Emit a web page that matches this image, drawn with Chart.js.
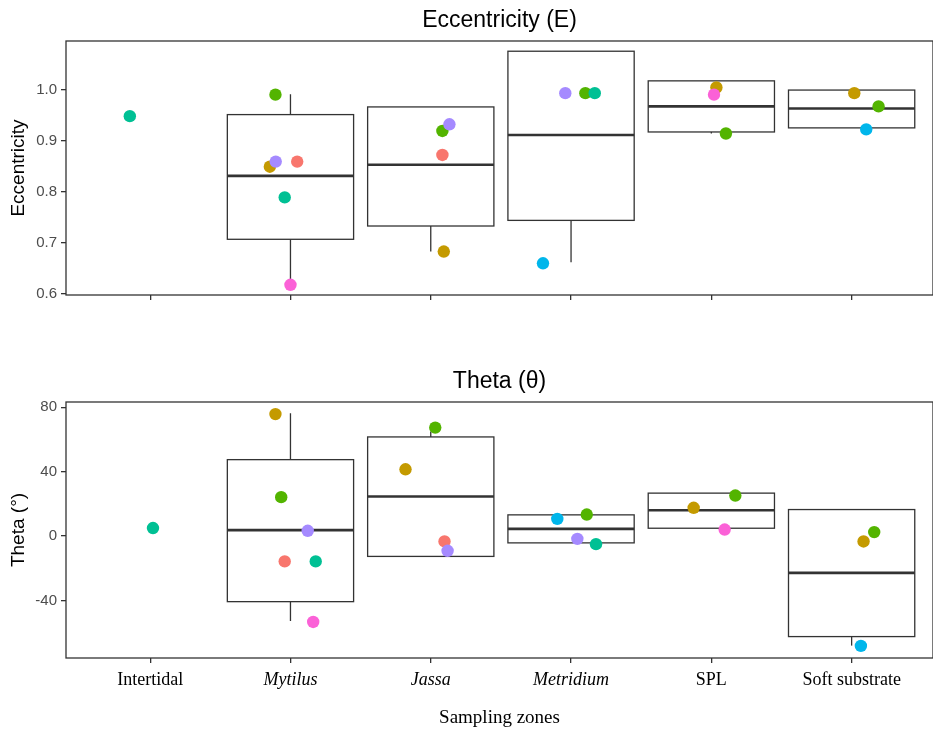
<!DOCTYPE html>
<html>
<head>
<meta charset="utf-8">
<title>Eccentricity and Theta by sampling zone</title>
<script src="https://cdn.jsdelivr.net/npm/chart.js@4.4.1/dist/chart.umd.min.js"></script>
<style>
  body { margin: 0; background: #fff; }
  canvas { position: absolute; left: 0; }
  #eccChart { top: 0; }
  #thetaChart { top: 360px; }
</style>
</head>
<body>
<canvas id="eccChart" width="933" height="360"></canvas>
<canvas id="thetaChart" width="933" height="369"></canvas>
<script>
const zones = ['Intertidal', 'Mytilus', 'Jassa', 'Metridium', 'SPL', 'Soft substrate'];
const italicZones = ['Mytilus', 'Jassa', 'Metridium'];
const groupColors = ['#F8766D', '#C49A00', '#53B400', '#00C094', '#00B6EB', '#A58AFF', '#FB61D7'];

// eccentricity box stats per zone (null = no box)
const eccLow    = [null, 0.618, 0.683, 0.662, 0.914, 0.925];
const eccQ1     = [null, 0.707, 0.733, 0.744, 0.917, 0.925];
const eccMedian = [null, 0.831, 0.853, 0.911, 0.967, 0.963];
const eccQ3     = [null, 0.951, 0.966, 1.075, 1.017, 0.999];
const eccHigh   = [null, 0.991, 0.966, 1.075, 1.017, 0.999];
const eccTicks  = [0.6, 0.7, 0.8, 0.9, 1.0];

// eccentricity per individual
const eccZone   = [0, 1, 1, 1, 1, 1, 1, 2, 2, 2, 2, 3, 3, 3, 3, 4, 4, 4, 5, 5, 5];
const eccGroup  = [3, 2, 5, 1, 0, 3, 6, 2, 5, 0, 1, 5, 2, 3, 4, 1, 6, 2, 1, 2, 4];
const eccValue  = [0.948, 0.990, 0.859, 0.849, 0.859, 0.789, 0.618, 0.919, 0.932, 0.872, 0.683,
                   0.993, 0.993, 0.993, 0.660, 1.004, 0.990, 0.914, 0.993, 0.967, 0.922];
const eccJitter = [-0.145, -0.107, -0.105, -0.147, 0.048, -0.041, 0.0, 0.083, 0.133, 0.083, 0.093,
                   -0.041, 0.102, 0.169, -0.2, 0.036, 0.019, 0.104, 0.019, 0.192, 0.104];

// theta box stats per zone
const thLow    = [null, -52.7, -12.6, -4.2, 4.9, -68.0];
const thQ1     = [null, -40.7, -12.6, -4.2, 4.9, -62.4];
const thMedian = [null, 3.7, 24.6, 4.5, 16.1, -22.8];
const thQ3     = [null, 47.5, 61.6, 13.2, 26.7, 16.5];
const thHigh   = [null, 76.3, 65.0, 13.2, 26.7, 16.5];
const thTicks  = [-40, 0, 40, 80];

// theta per individual
const thZone   = [0, 1, 1, 1, 1, 1, 1, 2, 2, 2, 2, 3, 3, 3, 3, 4, 4, 4, 5, 5, 5];
const thGroup  = [3, 1, 2, 5, 0, 3, 6, 2, 1, 0, 5, 4, 2, 5, 3, 1, 2, 6, 2, 1, 4];
const thValue  = [5.0, 75.8, 24.2, 3.3, -15.7, -15.7, -53.3, 67.4, 41.5, -3.3, -9.1,
                  10.7, 13.4, -1.7, -5.0, 17.6, 25.2, 4.1, 2.5, -3.3, -68.2];
const thJitter = [0.02, -0.107, -0.066, 0.123, -0.041, 0.18, 0.162, 0.032, -0.18, 0.098, 0.12,
                  -0.098, 0.112, 0.045, 0.178, -0.126, 0.171, 0.095, 0.161, 0.085, 0.066];

const lineCol = '#333333';

// boxes + whiskers, drawn under the points
function boxPlugin(low, q1, med, q3, high) {
  return {
    id: 'boxes',
    beforeDatasetsDraw(chart) {
      const { ctx, scales: { x, y } } = chart;
      ctx.save();
      ctx.strokeStyle = lineCol;
      q1.forEach((lo, i) => {
        if (lo == null) return;
        const l = x.getPixelForValue(i - 0.45), r = x.getPixelForValue(i + 0.45), c = x.getPixelForValue(i);
        const yq1 = y.getPixelForValue(q1[i]), yq3 = y.getPixelForValue(q3[i]);
        ctx.lineWidth = 1.3;
        ctx.beginPath();
        ctx.moveTo(c, y.getPixelForValue(high[i])); ctx.lineTo(c, yq3);
        ctx.moveTo(c, yq1); ctx.lineTo(c, y.getPixelForValue(low[i]));
        ctx.stroke();
        ctx.fillStyle = '#fff';
        ctx.fillRect(l, yq3, r - l, yq1 - yq3);
        ctx.strokeRect(l, yq3, r - l, yq1 - yq3);
        ctx.lineWidth = 2.6;
        ctx.beginPath();
        const ym = y.getPixelForValue(med[i]);
        ctx.moveTo(l, ym); ctx.lineTo(r, ym);
        ctx.stroke();
      });
      ctx.restore();
    }
  };
}

const panelBorder = {
  id: 'panelBorder',
  afterDatasetsDraw(chart) {
    const { ctx, chartArea: a } = chart;
    ctx.save();
    ctx.strokeStyle = lineCol;
    ctx.lineWidth = 1.3;
    ctx.strokeRect(a.left, a.top, a.right - a.left, a.bottom - a.top);
    ctx.restore();
  }
};

function pointsData(zone, group, value, jitter) {
  const idx = zone.map((z, i) => i).sort((a, b) => group[a] - group[b]);
  return {
    data: idx.map(i => ({ x: zone[i] + jitter[i], y: value[i] })),
    colors: idx.map(i => groupColors[group[i]])
  };
}

function makeChart(id, opt) {
  const pts = pointsData(opt.zone, opt.group, opt.value, opt.jitter);
  return new Chart(document.getElementById(id), {
    type: 'scatter',
    data: {
      datasets: [{
        data: pts.data,
        backgroundColor: pts.colors,
        borderWidth: 0,
        pointRadius: 6.2
      }]
    },
    options: {
      responsive: false,
      animation: false,
      events: [],
      layout: { padding: 0, autoPadding: false },
      plugins: {
        legend: { display: false },
        tooltip: { enabled: false },
        title: {
          display: true,
          text: opt.title,
          fullSize: false,
          color: '#000',
          font: { family: 'Liberation Sans', size: 23, weight: 'normal' },
          padding: opt.titlePad
        }
      },
      scales: {
        x: {
          type: 'linear',
          min: -0.6,
          max: 5.58,
          afterBuildTicks: s => { s.ticks = zones.map((z, i) => ({ value: i })); },
          afterFit: s => { s.height = opt.xHeight; },
          border: { display: false },
          grid: { drawOnChartArea: false, drawTicks: true, tickLength: 5, color: lineCol, lineWidth: 1.3 },
          ticks: {
            autoSkip: false,
            maxRotation: 0,
            padding: 6,
            color: '#000',
            callback: v => opt.showZones ? zones[v] : '',
            font: ctx => ({
              family: 'Liberation Serif',
              size: 18,
              style: italicZones.includes(zones[ctx.index]) ? 'italic' : 'normal'
            })
          },
          title: {
            display: opt.showZones,
            text: 'Sampling zones',
            color: '#000',
            font: { family: 'Liberation Serif', size: 19 },
            padding: { top: 0, bottom: 0 }
          }
        },
        y: {
          min: opt.yMin,
          max: opt.yMax,
          afterBuildTicks: s => { s.ticks = opt.ticks.map(v => ({ value: v })); },
          afterFit: s => { s.width = 66; },
          border: { display: false },
          grid: { drawOnChartArea: false, drawTicks: true, tickLength: 5, color: lineCol, lineWidth: 1.3 },
          ticks: {
            padding: 4,
            color: '#4D4D4D',
            font: { family: 'Liberation Sans', size: 15 },
            callback: opt.tickFmt
          },
          title: {
            display: true,
            text: opt.yTitle,
            color: '#000',
            font: { family: 'Liberation Sans', size: 19 },
            padding: { top: 7, bottom: 0 }
          }
        }
      }
    },
    plugins: [boxPlugin(opt.low, opt.q1, opt.med, opt.q3, opt.high), panelBorder]
  });
}

makeChart('eccChart', {
  title: 'Eccentricity (E)', titlePad: { top: 6.5, bottom: 6.9 },
  yTitle: 'Eccentricity', yMin: 0.598, yMax: 1.095, ticks: eccTicks,
  tickFmt: v => v.toFixed(1),
  xHeight: 65, showZones: false,
  low: eccLow, q1: eccQ1, med: eccMedian, q3: eccQ3, high: eccHigh,
  zone: eccZone, group: eccGroup, value: eccValue, jitter: eccJitter
});

makeChart('thetaChart', {
  title: 'Theta (θ)', titlePad: { top: 7.5, bottom: 6.9 },
  yTitle: 'Theta (°)', yMin: -75.7, yMax: 83.3, ticks: thTicks,
  tickFmt: v => String(v),
  xHeight: 71, showZones: true,
  low: thLow, q1: thQ1, med: thMedian, q3: thQ3, high: thHigh,
  zone: thZone, group: thGroup, value: thValue, jitter: thJitter
});
</script>
</body>
</html>
